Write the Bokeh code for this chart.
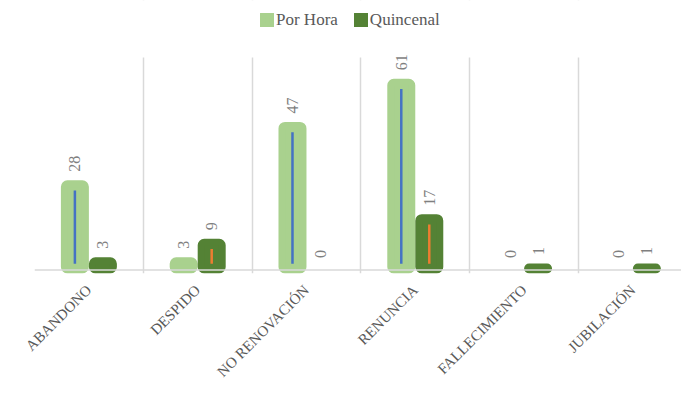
import math
import numpy as np
from bokeh.plotting import figure
from bokeh.models import (ColumnDataSource, FixedTicker, Legend, LegendItem, Span,
                          Range1d, BoxAnnotation)
from bokeh.core.properties import value
from bokeh.embed import file_html
from bokeh.resources import INLINE

# Data: separations by cause and pay schedule
categorias = ["ABANDONO", "DESPIDO", "NO RENOVACIÓN", "RENUNCIA", "FALLECIMIENTO", "JUBILACIÓN"]
por_hora = [28, 3, 47, 61, 0, 0]
quincenal = [3, 9, 0, 17, 1, 1]

SERIF = "Liberation Serif"
C_HORA = "#A9D18E"
C_QUIN = "#548235"
C_HORA_LINE = "#4472C4"
C_QUIN_LINE = "#ED7D31"
GRID = "#D9D9D9"

Y_MAX = 69.1         # top of the value axis
OFFSET = 0.1287      # half the distance between the paired bars
BAR_W = 0.193        # inner bar width (outline adds the rest)
LINE_BOTTOM = 2.0    # inner stripe starts a little above the baseline
LINE_GAP = 2.2       # and stops a little below the bar top

p = figure(width=681, height=407,
           x_range=Range1d(-0.5, 5.447), y_range=Range1d(-1.14, 87.6),
           y_axis_location=None, toolbar_location=None, output_backend="svg",
           min_border_left=34, min_border_right=0, min_border_top=0,
           min_border_bottom=134, outline_line_color=None)
p.background_fill_color = "white"
p.border_fill_color = "white"

idx = np.arange(len(categorias))

# vertical separators between categories
p.ygrid.visible = False
p.xgrid.ticker = FixedTicker(ticks=list(np.arange(len(categorias) + 1) - 0.5))
p.xgrid.grid_line_color = GRID
p.xgrid.grid_line_width = 1.5
# keep the separators below the axis maximum (legend strip above stays blank)
p.add_layout(BoxAnnotation(bottom=Y_MAX, fill_color="white", fill_alpha=1.0,
                           line_alpha=0, level="underlay"))


def series(vals, shift, color, line_color):
    v = np.array(vals, dtype=float)
    alpha = np.where(v > 0, 1.0, 0.0)
    src = ColumnDataSource(dict(x=idx + shift, top=v, alpha=alpha,
                                lbl=[str(int(a)) for a in v]))
    r = p.vbar(x="x", top="top", bottom=0, width=BAR_W, source=src,
               fill_color=color, line_color=color, line_width=7,
               fill_alpha="alpha", line_alpha="alpha", border_radius=3)
    keep = (v - LINE_GAP) > LINE_BOTTOM + 0.5
    p.segment(x0=(idx + shift)[keep], x1=(idx + shift)[keep],
              y0=np.full(keep.sum(), LINE_BOTTOM), y1=(v - LINE_GAP)[keep],
              line_color=line_color, line_width=2.5)
    p.text(x="x", y="top", text="lbl", source=src, angle=math.pi / 2,
           text_align="left", text_baseline="middle", y_offset=-12,
           text_font=value(SERIF), text_font_size="16px", text_color="#7F7F7F")
    return r


r_hora = series(por_hora, -OFFSET, C_HORA, C_HORA_LINE)
r_quin = series(quincenal, OFFSET, C_QUIN, C_QUIN_LINE)

# baseline
p.add_layout(Span(location=0, dimension="width", line_color=GRID, line_width=1.5))

ax = p.xaxis[0]
ax.ticker = FixedTicker(ticks=list(idx))
ax.major_label_overrides = {int(i): c for i, c in enumerate(categorias)}
ax.major_label_orientation = math.pi / 4
ax.axis_line_color = None
ax.major_tick_line_color = None
ax.minor_tick_line_color = None
ax.major_label_standoff = 8
ax.major_label_text_font = SERIF
ax.major_label_text_font_size = "15px"
ax.major_label_text_color = "#595959"

legend = Legend(items=[LegendItem(label="Por Hora", renderers=[r_hora]),
                       LegendItem(label="Quincenal", renderers=[r_quin])],
                orientation="horizontal", location=(226, 243),
                glyph_width=14, glyph_height=14, label_standoff=2, spacing=16,
                padding=2, margin=0, border_line_color=None,
                background_fill_alpha=0,
                label_text_font=SERIF, label_text_font_size="17px",
                label_text_color="#595959")
p.add_layout(legend)

open("out.html", "w").write(file_html(p, INLINE))
